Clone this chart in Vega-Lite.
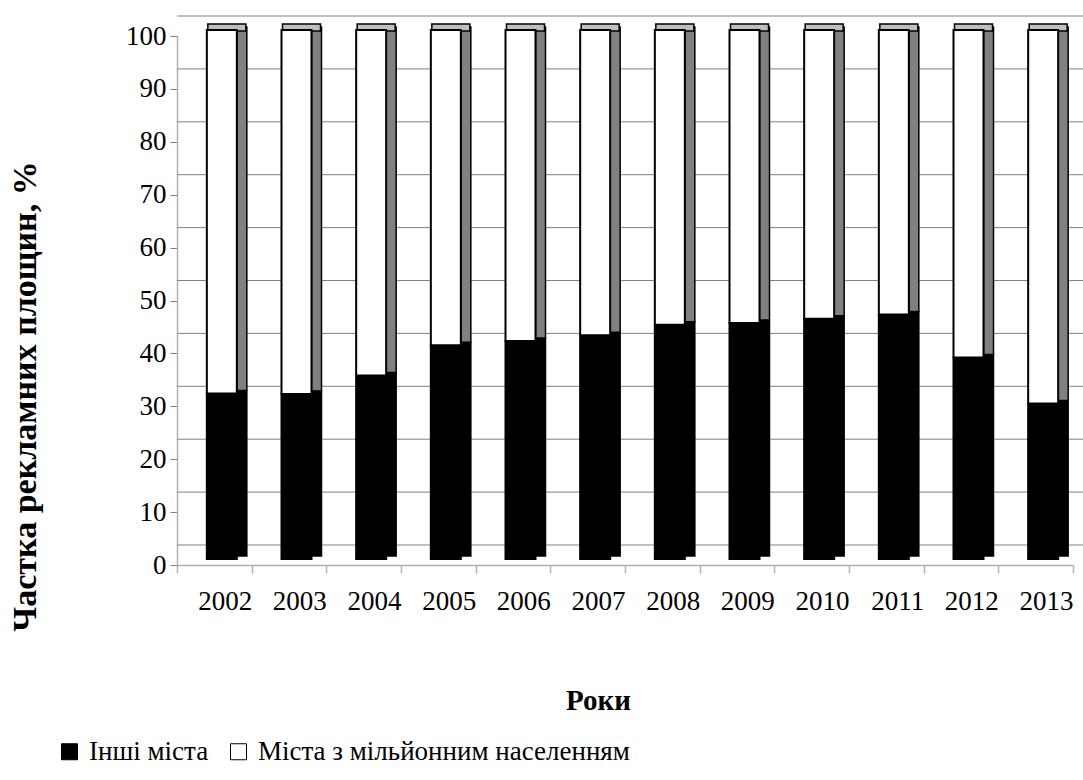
{
  "$schema": "https://vega.github.io/schema/vega-lite/v6.json",
  "autosize": {"type": "none"},
  "padding": {"left": 177, "top": 36, "right": 10, "bottom": 215},
  "width": 896,
  "height": 529,
  "background": "#ffffff",
  "config": {
    "font": "Liberation Serif, Times New Roman, serif",
    "view": {"stroke": null}
  },
  "datasets": {
    "bars": [
      {"year": "2002", "category": "Інші міста", "value": 31.3},
      {"year": "2002", "category": "Міста з мільйонним населенням", "value": 68.7},
      {"year": "2003", "category": "Інші міста", "value": 31.2},
      {"year": "2003", "category": "Міста з мільйонним населенням", "value": 68.8},
      {"year": "2004", "category": "Інші міста", "value": 34.7},
      {"year": "2004", "category": "Міста з мільйонним населенням", "value": 65.3},
      {"year": "2005", "category": "Інші міста", "value": 40.4},
      {"year": "2005", "category": "Міста з мільйонним населенням", "value": 59.6},
      {"year": "2006", "category": "Інші міста", "value": 41.2},
      {"year": "2006", "category": "Міста з мільйонним населенням", "value": 58.8},
      {"year": "2007", "category": "Інші міста", "value": 42.3},
      {"year": "2007", "category": "Міста з мільйонним населенням", "value": 57.7},
      {"year": "2008", "category": "Інші міста", "value": 44.3},
      {"year": "2008", "category": "Міста з мільйонним населенням", "value": 55.7},
      {"year": "2009", "category": "Інші міста", "value": 44.6},
      {"year": "2009", "category": "Міста з мільйонним населенням", "value": 55.4},
      {"year": "2010", "category": "Інші міста", "value": 45.4},
      {"year": "2010", "category": "Міста з мільйонним населенням", "value": 54.6},
      {"year": "2011", "category": "Інші міста", "value": 46.2},
      {"year": "2011", "category": "Міста з мільйонним населенням", "value": 53.8},
      {"year": "2012", "category": "Інші міста", "value": 38.1},
      {"year": "2012", "category": "Міста з мільйонним населенням", "value": 61.9},
      {"year": "2013", "category": "Інші міста", "value": 29.4},
      {"year": "2013", "category": "Міста з мільйонним населенням", "value": 70.6}
    ],
    "grid": [
      {"level": 0}, {"level": 10}, {"level": 20}, {"level": 30}, {"level": 40},
      {"level": 50}, {"level": 60}, {"level": 70}, {"level": 80}, {"level": 90}, {"level": 100}
    ],
    "tops": [
      {"year": "2002", "total": 100}, {"year": "2003", "total": 100}, {"year": "2004", "total": 100},
      {"year": "2005", "total": 100}, {"year": "2006", "total": 100}, {"year": "2007", "total": 100},
      {"year": "2008", "total": 100}, {"year": "2009", "total": 100}, {"year": "2010", "total": 100},
      {"year": "2011", "total": 100}, {"year": "2012", "total": 100}, {"year": "2013", "total": 100}
    ]
  },
  "layer": [
    {
      "data": {"name": "grid"},
      "mark": {"type": "rule", "color": "#808080", "strokeWidth": 1, "yOffset": -20, "xOffset": 24, "clip": false},
      "encoding": {
        "y": {
          "field": "level", "type": "quantitative",
          "scale": {"domain": [0, 100], "nice": false},
          "axis": {
            "title": "Частка рекламних площин, %",
            "titleFont": "Liberation Serif",
            "titleFontSize": 34,
            "titleFontWeight": "bold",
            "titleColor": "#000000",
            "titleX": -152,
            "titleY": 360,
            "titleAngle": -90,
            "titleAlign": "center",
            "titleBaseline": "middle",
            "values": [0, 10, 20, 30, 40, 50, 60, 70, 80, 90, 100],
            "labelFont": "Liberation Serif",
            "labelFontSize": 27,
            "labelColor": "#000000",
            "labelPadding": 4,
            "tickSize": 7,
            "tickColor": "#808080",
            "domainColor": "#b0b0b0",
            "domainWidth": 1.5,
            "grid": false
          }
        }
      }
    },
    {
      "data": {"name": "bars"},
      "mark": {"type": "bar", "width": 10, "xOffset": 27.5, "yOffset": -9, "stroke": "#000000", "strokeWidth": 1.5},
      "encoding": {
        "x": {"field": "year", "type": "nominal"},
        "y": {"field": "value", "type": "quantitative", "stack": "zero"},
        "order": {"field": "category", "sort": "ascending"},
        "fill": {
          "condition": {"test": "datum.category === 'Інші міста'", "value": "#000000"},
          "value": "#808080"
        }
      }
    },
    {
      "data": {"name": "tops"},
      "mark": {"type": "tick", "orient": "horizontal", "size": 38, "thickness": 7, "xOffset": 12.5, "yOffset": -8.5, "color": "#c0c0c0", "stroke": "#000000", "strokeWidth": 1.5, "opacity": 1},
      "encoding": {
        "x": {"field": "year", "type": "nominal"},
        "y": {"field": "total", "type": "quantitative"}
      }
    },
    {
      "data": {"name": "bars"},
      "mark": {"type": "bar", "width": 30, "xOffset": 7.5, "yOffset": -6, "stroke": "#000000", "strokeWidth": 2},
      "encoding": {
        "x": {
          "field": "year", "type": "nominal",
          "scale": {"paddingInner": 0, "paddingOuter": 0},
          "axis": {
            "title": "Роки",
            "titleFont": "Liberation Serif",
            "titleFontSize": 29,
            "titleFontWeight": "bold",
            "titleColor": "#000000",
            "titleX": 421,
            "titleY": 135,
            "titleBaseline": "middle",
            "labelFont": "Liberation Serif",
            "labelFontSize": 27,
            "labelColor": "#000000",
            "labelAngle": 0,
            "labelPadding": 28,
            "labelOffset": 37.3,
            "tickBand": "extent",
            "tickSize": 8,
            "tickColor": "#b0b0b0",
            "tickWidth": 1.5,
            "domainColor": "#b0b0b0",
            "domainWidth": 1.5
          }
        },
        "y": {"field": "value", "type": "quantitative", "stack": "zero"},
        "order": {"field": "category", "sort": "ascending"},
        "color": {
          "field": "category", "type": "nominal",
          "scale": {"domain": ["Інші міста", "Міста з мільйонним населенням"], "range": ["#000000", "#ffffff"]},
          "legend": {
            "title": null,
            "orient": "none",
            "direction": "horizontal",
            "legendX": -121,
            "legendY": 702,
            "symbolType": "square",
            "symbolSize": 256,
            "symbolStrokeColor": "#000000",
            "symbolStrokeWidth": 1,
            "labelFont": "Liberation Serif",
            "labelFontSize": 27,
            "labelColor": "#000000",
            "labelOffset": 6,
            "columnPadding": 16,
            "labelLimit": 500
          }
        }
      }
    }
  ]
}
